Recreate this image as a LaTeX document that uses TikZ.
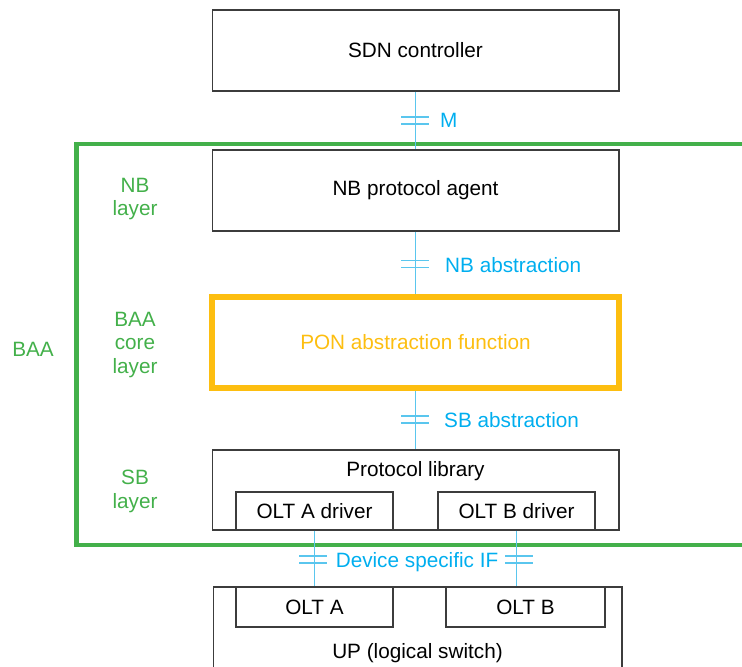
\documentclass[tikz,border=0pt]{standalone}
\usepackage{fontspec}
\setmainfont{Liberation Sans}
\usetikzlibrary{calc, positioning}
\definecolor{baagreen}{RGB}{67,176,74}
\definecolor{ifcyan}{RGB}{0,174,239}
\definecolor{ifline}{RGB}{90,198,238}
\definecolor{ponyellow}{RGB}{253,190,16}
\definecolor{boxgray}{RGB}{60,60,60}
\tikzset{
  box/.style={draw=boxgray, line width=0.6pt, rectangle, inner sep=0pt},
  ifwire/.style={draw=ifline, line width=0.8pt},
  iflabel/.style={text=ifcyan},
  layerlabel/.style={text=baagreen, align=center},
}

\begin{document}
\begin{tikzpicture}[x=0.02cm, y=-0.02cm, font=\fontsize{11.8}{13.6}\selectfont]
\useasboundingbox (0,0) rectangle (742,666);
\clip (0,0) rectangle (742,666);
	% boxes
\node [box, minimum width=8.14cm, minimum height=1.62cm] (sdn) at (415.5,50.5) {SDN controller};
\node [box, minimum width=8.14cm, minimum height=1.62cm] (nb) at (415.5,190.5) {NB protocol agent};
\node [box, draw=ponyellow, line width=3.2pt, text=ponyellow, minimum width=8.14cm, minimum height=1.82cm] (pon) at (415.5,342.5) {PON abstraction function};
\node [box, minimum width=8.14cm, minimum height=1.6cm] (protlib) at (415.5,490) {};
\node (protlab) at (415.5,471) {Protocol library};
\node [box, minimum width=3.14cm, minimum height=0.76cm] (oltadrv) at (314.5,511) {OLT A driver};
\node [box, minimum width=3.14cm, minimum height=0.76cm] (oltbdrv) at (516.5,511) {OLT B driver};
\node [box, minimum width=8.18cm, minimum height=2.26cm] (up) at (417.5,643.5) {};
\node (uplab) at (417.5,653) {UP (logical switch)};
\node [box, minimum width=3.14cm, minimum height=0.8cm] (olta) at (314.5,607) {OLT A};
\node [box, minimum width=3.18cm, minimum height=0.8cm] (oltb) at (525.5,607) {OLT B};

	% BAA frame
\draw [baagreen, line width=2.8pt] (76.5,144) rectangle (760,545);
\node [layerlabel] (baa) at (33,349) {BAA};
\node [layerlabel] (nblayer) at (135,199) {NB\\layer};
\node [layerlabel] (corelayer) at (135,345) {BAA\\core\\layer};
\node [layerlabel] (sblayer) at (135,491) {SB\\layer};

	% interfaces
\draw [ifwire] (sdn.south) -- (nb.north);
\draw [ifwire] (nb.south) -- (pon.north);
\draw [ifwire] (pon.south) -- (protlib.north);
\draw [ifwire] (oltadrv.south) -- (oltadrv.south |- olta.north);
\draw [ifwire] (oltbdrv.south) -- (oltbdrv.south |- oltb.north);
\foreach \tx/\ty in {415/120.5, 415/264, 415/419.5, 313/559.5, 519/559.5}
  \draw [ifwire] (\tx-14,\ty-3.5) -- ++(28,0) (\tx-14,\ty+3.5) -- ++(28,0);
\node [iflabel, anchor=west] (mlab) at (434,120) {M};
\node [iflabel, anchor=west] (nbabs) at (439,265) {NB abstraction};
\node [iflabel, anchor=west] (sbabs) at (438,420) {SB abstraction};
\node [iflabel] (devif) at (417,562) {Device specific IF};
\end{tikzpicture}
\end{document}
